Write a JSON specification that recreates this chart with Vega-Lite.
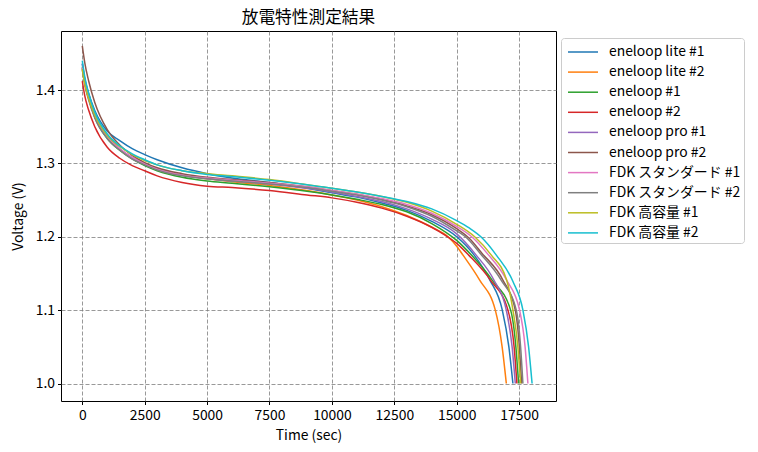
{
  "$schema": "https://vega.github.io/schema/vega-lite/v6.json",
  "width": 495,
  "height": 370,
  "autosize": {"type": "none"},
  "padding": {"left": 61, "top": 31, "right": 202, "bottom": 51},
  "background": "white",
  "title": {"text": "放電特性測定結果", "font": "Noto Sans CJK JP", "fontSize": 16.7, "fontWeight": "normal", "color": "black", "anchor": "middle", "offset": 4},
  "config": {
    "font": "Noto Sans CJK JP",
    "view": {"stroke": "black", "strokeWidth": 1},
    "axis": {"labelFont": "Noto Sans CJK JP", "titleFont": "Noto Sans CJK JP", "labelFontSize": 13.9, "titleFontSize": 13.9, "titleFontWeight": "normal", "labelColor": "black", "titleColor": "black", "tickColor": "black", "tickSize": 3.5, "domain": false, "gridColor": "#7f7f7f", "gridDash": [4, 2], "gridOpacity": 1, "gridWidth": 0.8}
  },
  "data": {"values": [
    {"series":"eneloop lite #1","time":0,"voltage":1.436},{"series":"eneloop lite #1","time":100,"voltage":1.415},{"series":"eneloop lite #1","time":250,"voltage":1.396},{"series":"eneloop lite #1","time":500,"voltage":1.372},{"series":"eneloop lite #1","time":1000,"voltage":1.344},{"series":"eneloop lite #1","time":1500,"voltage":1.331},{"series":"eneloop lite #1","time":2000,"voltage":1.320},{"series":"eneloop lite #1","time":2500,"voltage":1.312},{"series":"eneloop lite #1","time":3000,"voltage":1.305},{"series":"eneloop lite #1","time":4000,"voltage":1.294},{"series":"eneloop lite #1","time":5000,"voltage":1.286},{"series":"eneloop lite #1","time":6000,"voltage":1.280},{"series":"eneloop lite #1","time":7500,"voltage":1.274},{"series":"eneloop lite #1","time":9000,"voltage":1.266},{"series":"eneloop lite #1","time":10000,"voltage":1.260},{"series":"eneloop lite #1","time":11000,"voltage":1.254},{"series":"eneloop lite #1","time":12000,"voltage":1.246},{"series":"eneloop lite #1","time":13000,"voltage":1.236},{"series":"eneloop lite #1","time":14000,"voltage":1.221},{"series":"eneloop lite #1","time":15000,"voltage":1.200},{"series":"eneloop lite #1","time":15700,"voltage":1.175},{"series":"eneloop lite #1","time":16330,"voltage":1.141},{"series":"eneloop lite #1","time":16827,"voltage":1.1},{"series":"eneloop lite #1","time":17090,"voltage":1.05},{"series":"eneloop lite #1","time":17252,"voltage":1.0},
    {"series":"eneloop lite #2","time":0,"voltage":1.430},{"series":"eneloop lite #2","time":100,"voltage":1.410},{"series":"eneloop lite #2","time":250,"voltage":1.390},{"series":"eneloop lite #2","time":500,"voltage":1.364},{"series":"eneloop lite #2","time":1000,"voltage":1.335},{"series":"eneloop lite #2","time":1500,"voltage":1.319},{"series":"eneloop lite #2","time":2000,"voltage":1.307},{"series":"eneloop lite #2","time":2500,"voltage":1.299},{"series":"eneloop lite #2","time":3000,"voltage":1.293},{"series":"eneloop lite #2","time":4000,"voltage":1.284},{"series":"eneloop lite #2","time":5000,"voltage":1.279},{"series":"eneloop lite #2","time":6000,"voltage":1.275},{"series":"eneloop lite #2","time":7500,"voltage":1.270},{"series":"eneloop lite #2","time":9000,"voltage":1.263},{"series":"eneloop lite #2","time":10000,"voltage":1.257},{"series":"eneloop lite #2","time":11000,"voltage":1.250},{"series":"eneloop lite #2","time":12000,"voltage":1.241},{"series":"eneloop lite #2","time":13000,"voltage":1.229},{"series":"eneloop lite #2","time":14000,"voltage":1.213},{"series":"eneloop lite #2","time":14650,"voltage":1.2},{"series":"eneloop lite #2","time":15000,"voltage":1.187},{"series":"eneloop lite #2","time":15253,"voltage":1.175},{"series":"eneloop lite #2","time":15920,"voltage":1.141},{"series":"eneloop lite #2","time":16547,"voltage":1.1},{"series":"eneloop lite #2","time":16820,"voltage":1.05},{"series":"eneloop lite #2","time":16988,"voltage":1.0},
    {"series":"eneloop #1","time":0,"voltage":1.432},{"series":"eneloop #1","time":100,"voltage":1.410},{"series":"eneloop #1","time":250,"voltage":1.389},{"series":"eneloop #1","time":500,"voltage":1.363},{"series":"eneloop #1","time":1000,"voltage":1.334},{"series":"eneloop #1","time":1500,"voltage":1.318},{"series":"eneloop #1","time":2000,"voltage":1.306},{"series":"eneloop #1","time":2500,"voltage":1.297},{"series":"eneloop #1","time":3000,"voltage":1.290},{"series":"eneloop #1","time":4000,"voltage":1.281},{"series":"eneloop #1","time":5000,"voltage":1.276},{"series":"eneloop #1","time":6000,"voltage":1.273},{"series":"eneloop #1","time":7500,"voltage":1.268},{"series":"eneloop #1","time":9000,"voltage":1.262},{"series":"eneloop #1","time":10000,"voltage":1.257},{"series":"eneloop #1","time":11000,"voltage":1.251},{"series":"eneloop #1","time":12000,"voltage":1.244},{"series":"eneloop #1","time":13000,"voltage":1.234},{"series":"eneloop #1","time":14000,"voltage":1.218},{"series":"eneloop #1","time":15000,"voltage":1.195},{"series":"eneloop #1","time":15590,"voltage":1.175},{"series":"eneloop #1","time":16420,"voltage":1.141},{"series":"eneloop #1","time":17160,"voltage":1.1},{"series":"eneloop #1","time":17370,"voltage":1.05},{"series":"eneloop #1","time":17480,"voltage":1.0},
    {"series":"eneloop #2","time":0,"voltage":1.412},{"series":"eneloop #2","time":100,"voltage":1.392},{"series":"eneloop #2","time":250,"voltage":1.373},{"series":"eneloop #2","time":500,"voltage":1.350},{"series":"eneloop #2","time":1000,"voltage":1.322},{"series":"eneloop #2","time":1500,"voltage":1.307},{"series":"eneloop #2","time":2000,"voltage":1.297},{"series":"eneloop #2","time":2500,"voltage":1.290},{"series":"eneloop #2","time":3000,"voltage":1.283},{"series":"eneloop #2","time":4000,"voltage":1.274},{"series":"eneloop #2","time":5000,"voltage":1.269},{"series":"eneloop #2","time":6000,"voltage":1.267},{"series":"eneloop #2","time":7500,"voltage":1.263},{"series":"eneloop #2","time":9000,"voltage":1.257},{"series":"eneloop #2","time":10000,"voltage":1.253},{"series":"eneloop #2","time":11000,"voltage":1.247},{"series":"eneloop #2","time":12000,"voltage":1.239},{"series":"eneloop #2","time":13000,"voltage":1.228},{"series":"eneloop #2","time":14000,"voltage":1.213},{"series":"eneloop #2","time":14500,"voltage":1.203},{"series":"eneloop #2","time":15000,"voltage":1.191},{"series":"eneloop #2","time":15480,"voltage":1.175},{"series":"eneloop #2","time":16350,"voltage":1.141},{"series":"eneloop #2","time":17053,"voltage":1.1},{"series":"eneloop #2","time":17300,"voltage":1.05},{"series":"eneloop #2","time":17412,"voltage":1.0},
    {"series":"eneloop pro #1","time":0,"voltage":1.436},{"series":"eneloop pro #1","time":100,"voltage":1.414},{"series":"eneloop pro #1","time":250,"voltage":1.393},{"series":"eneloop pro #1","time":500,"voltage":1.367},{"series":"eneloop pro #1","time":1000,"voltage":1.337},{"series":"eneloop pro #1","time":1500,"voltage":1.320},{"series":"eneloop pro #1","time":2000,"voltage":1.308},{"series":"eneloop pro #1","time":2500,"voltage":1.299},{"series":"eneloop pro #1","time":3000,"voltage":1.292},{"series":"eneloop pro #1","time":4000,"voltage":1.284},{"series":"eneloop pro #1","time":5000,"voltage":1.279},{"series":"eneloop pro #1","time":6000,"voltage":1.276},{"series":"eneloop pro #1","time":7500,"voltage":1.272},{"series":"eneloop pro #1","time":9000,"voltage":1.266},{"series":"eneloop pro #1","time":10000,"voltage":1.261},{"series":"eneloop pro #1","time":11000,"voltage":1.255},{"series":"eneloop pro #1","time":12000,"voltage":1.248},{"series":"eneloop pro #1","time":13000,"voltage":1.238},{"series":"eneloop pro #1","time":14000,"voltage":1.224},{"series":"eneloop pro #1","time":15000,"voltage":1.204},{"series":"eneloop pro #1","time":15780,"voltage":1.175},{"series":"eneloop pro #1","time":16490,"voltage":1.141},{"series":"eneloop pro #1","time":16987,"voltage":1.1},{"series":"eneloop pro #1","time":17220,"voltage":1.05},{"series":"eneloop pro #1","time":17348,"voltage":1.0},
    {"series":"eneloop pro #2","time":0,"voltage":1.460},{"series":"eneloop pro #2","time":100,"voltage":1.437},{"series":"eneloop pro #2","time":250,"voltage":1.413},{"series":"eneloop pro #2","time":500,"voltage":1.383},{"series":"eneloop pro #2","time":1000,"voltage":1.346},{"series":"eneloop pro #2","time":1500,"voltage":1.325},{"series":"eneloop pro #2","time":2000,"voltage":1.311},{"series":"eneloop pro #2","time":2500,"voltage":1.301},{"series":"eneloop pro #2","time":3000,"voltage":1.294},{"series":"eneloop pro #2","time":4000,"voltage":1.286},{"series":"eneloop pro #2","time":5000,"voltage":1.281},{"series":"eneloop pro #2","time":6000,"voltage":1.278},{"series":"eneloop pro #2","time":7500,"voltage":1.274},{"series":"eneloop pro #2","time":9000,"voltage":1.268},{"series":"eneloop pro #2","time":10000,"voltage":1.263},{"series":"eneloop pro #2","time":11000,"voltage":1.258},{"series":"eneloop pro #2","time":12000,"voltage":1.251},{"series":"eneloop pro #2","time":13000,"voltage":1.242},{"series":"eneloop pro #2","time":14000,"voltage":1.230},{"series":"eneloop pro #2","time":15000,"voltage":1.211},{"series":"eneloop pro #2","time":15500,"voltage":1.198},{"series":"eneloop pro #2","time":16000,"voltage":1.178},{"series":"eneloop pro #2","time":16850,"voltage":1.141},{"series":"eneloop pro #2","time":17347,"voltage":1.1},{"series":"eneloop pro #2","time":17510,"voltage":1.05},{"series":"eneloop pro #2","time":17600,"voltage":1.0},
    {"series":"FDK スタンダード #1","time":0,"voltage":1.430},{"series":"FDK スタンダード #1","time":100,"voltage":1.410},{"series":"FDK スタンダード #1","time":250,"voltage":1.390},{"series":"FDK スタンダード #1","time":500,"voltage":1.365},{"series":"FDK スタンダード #1","time":1000,"voltage":1.336},{"series":"FDK スタンダード #1","time":1500,"voltage":1.320},{"series":"FDK スタンダード #1","time":2000,"voltage":1.308},{"series":"FDK スタンダード #1","time":2500,"voltage":1.299},{"series":"FDK スタンダード #1","time":3000,"voltage":1.292},{"series":"FDK スタンダード #1","time":4000,"voltage":1.284},{"series":"FDK スタンダード #1","time":5000,"voltage":1.280},{"series":"FDK スタンダード #1","time":6000,"voltage":1.277},{"series":"FDK スタンダード #1","time":7500,"voltage":1.273},{"series":"FDK スタンダード #1","time":9000,"voltage":1.268},{"series":"FDK スタンダード #1","time":10000,"voltage":1.263},{"series":"FDK スタンダード #1","time":11000,"voltage":1.258},{"series":"FDK スタンダード #1","time":12000,"voltage":1.252},{"series":"FDK スタンダード #1","time":13000,"voltage":1.244},{"series":"FDK スタンダード #1","time":14000,"voltage":1.232},{"series":"FDK スタンダード #1","time":15000,"voltage":1.214},{"series":"FDK スタンダード #1","time":15600,"voltage":1.200},{"series":"FDK スタンダード #1","time":16253,"voltage":1.176},{"series":"FDK スタンダード #1","time":17000,"voltage":1.141},{"series":"FDK スタンダード #1","time":17520,"voltage":1.1},{"series":"FDK スタンダード #1","time":17740,"voltage":1.05},{"series":"FDK スタンダード #1","time":17852,"voltage":1.0},
    {"series":"FDK スタンダード #2","time":0,"voltage":1.428},{"series":"FDK スタンダード #2","time":100,"voltage":1.407},{"series":"FDK スタンダード #2","time":250,"voltage":1.387},{"series":"FDK スタンダード #2","time":500,"voltage":1.362},{"series":"FDK スタンダード #2","time":1000,"voltage":1.334},{"series":"FDK スタンダード #2","time":1500,"voltage":1.318},{"series":"FDK スタンダード #2","time":2000,"voltage":1.306},{"series":"FDK スタンダード #2","time":2500,"voltage":1.298},{"series":"FDK スタンダード #2","time":3000,"voltage":1.291},{"series":"FDK スタンダード #2","time":4000,"voltage":1.283},{"series":"FDK スタンダード #2","time":5000,"voltage":1.279},{"series":"FDK スタンダード #2","time":6000,"voltage":1.276},{"series":"FDK スタンダード #2","time":7500,"voltage":1.272},{"series":"FDK スタンダード #2","time":9000,"voltage":1.267},{"series":"FDK スタンダード #2","time":10000,"voltage":1.262},{"series":"FDK スタンダード #2","time":11000,"voltage":1.257},{"series":"FDK スタンダード #2","time":12000,"voltage":1.250},{"series":"FDK スタンダード #2","time":13000,"voltage":1.241},{"series":"FDK スタンダード #2","time":14000,"voltage":1.228},{"series":"FDK スタンダード #2","time":15000,"voltage":1.208},{"series":"FDK スタンダード #2","time":15350,"voltage":1.200},{"series":"FDK スタンダード #2","time":15950,"voltage":1.177},{"series":"FDK スタンダード #2","time":16780,"voltage":1.141},{"series":"FDK スタンダード #2","time":17387,"voltage":1.1},{"series":"FDK スタンダード #2","time":17560,"voltage":1.05},{"series":"FDK スタンダード #2","time":17652,"voltage":1.0},
    {"series":"FDK 高容量 #1","time":0,"voltage":1.428},{"series":"FDK 高容量 #1","time":100,"voltage":1.408},{"series":"FDK 高容量 #1","time":250,"voltage":1.389},{"series":"FDK 高容量 #1","time":500,"voltage":1.366},{"series":"FDK 高容量 #1","time":1000,"voltage":1.338},{"series":"FDK 高容量 #1","time":1500,"voltage":1.323},{"series":"FDK 高容量 #1","time":2000,"voltage":1.312},{"series":"FDK 高容量 #1","time":2500,"voltage":1.304},{"series":"FDK 高容量 #1","time":3000,"voltage":1.298},{"series":"FDK 高容量 #1","time":4000,"voltage":1.290},{"series":"FDK 高容量 #1","time":5000,"voltage":1.286},{"series":"FDK 高容量 #1","time":6000,"voltage":1.283},{"series":"FDK 高容量 #1","time":7500,"voltage":1.278},{"series":"FDK 高容量 #1","time":9000,"voltage":1.271},{"series":"FDK 高容量 #1","time":10000,"voltage":1.266},{"series":"FDK 高容量 #1","time":11000,"voltage":1.261},{"series":"FDK 高容量 #1","time":12000,"voltage":1.255},{"series":"FDK 高容量 #1","time":13000,"voltage":1.247},{"series":"FDK 高容量 #1","time":14000,"voltage":1.235},{"series":"FDK 高容量 #1","time":15000,"voltage":1.217},{"series":"FDK 高容量 #1","time":15720,"voltage":1.200},{"series":"FDK 高容量 #1","time":16387,"voltage":1.175},{"series":"FDK 高容量 #1","time":17000,"voltage":1.141},{"series":"FDK 高容量 #1","time":17253,"voltage":1.1},{"series":"FDK 高容量 #1","time":17450,"voltage":1.05},{"series":"FDK 高容量 #1","time":17560,"voltage":1.0},
    {"series":"FDK 高容量 #2","time":0,"voltage":1.440},{"series":"FDK 高容量 #2","time":100,"voltage":1.418},{"series":"FDK 高容量 #2","time":250,"voltage":1.396},{"series":"FDK 高容量 #2","time":500,"voltage":1.370},{"series":"FDK 高容量 #2","time":1000,"voltage":1.340},{"series":"FDK 高容量 #2","time":1500,"voltage":1.324},{"series":"FDK 高容量 #2","time":2000,"voltage":1.313},{"series":"FDK 高容量 #2","time":2500,"voltage":1.305},{"series":"FDK 高容量 #2","time":3000,"voltage":1.298},{"series":"FDK 高容量 #2","time":4000,"voltage":1.290},{"series":"FDK 高容量 #2","time":5000,"voltage":1.285},{"series":"FDK 高容量 #2","time":6000,"voltage":1.282},{"series":"FDK 高容量 #2","time":7500,"voltage":1.277},{"series":"FDK 高容量 #2","time":9000,"voltage":1.271},{"series":"FDK 高容量 #2","time":10000,"voltage":1.266},{"series":"FDK 高容量 #2","time":11000,"voltage":1.261},{"series":"FDK 高容量 #2","time":12000,"voltage":1.255},{"series":"FDK 高容量 #2","time":13000,"voltage":1.248},{"series":"FDK 高容量 #2","time":14000,"voltage":1.238},{"series":"FDK 高容量 #2","time":15000,"voltage":1.222},{"series":"FDK 高容量 #2","time":15500,"voltage":1.212},{"series":"FDK 高容量 #2","time":16000,"voltage":1.199},{"series":"FDK 高容量 #2","time":16587,"voltage":1.175},{"series":"FDK 高容量 #2","time":17253,"voltage":1.139},{"series":"FDK 高容量 #2","time":17653,"voltage":1.1},{"series":"FDK 高容量 #2","time":17880,"voltage":1.05},{"series":"FDK 高容量 #2","time":18020,"voltage":1.0}
  ]},
  "mark": {"type": "line", "strokeWidth": 1.5, "interpolate": "monotone", "clip": true},
  "encoding": {
    "x": {"field": "time", "type": "quantitative", "title": "Time (sec)",
          "scale": {"domain": [-853, 18978], "nice": false, "zero": false},
          "axis": {"values": [0, 2500, 5000, 7500, 10000, 12500, 15000, 17500], "format": "d", "labelPadding": 4, "titlePadding": 6}},
    "y": {"field": "voltage", "type": "quantitative", "title": "Voltage (V)",
          "scale": {"domain": [0.9762, 1.4804], "nice": false, "zero": false},
          "axis": {"values": [1.0, 1.1, 1.2, 1.3, 1.4], "format": ".1f", "labelPadding": 3, "titlePadding": 10}},
    "color": {"field": "series", "type": "nominal",
              "scale": {"domain": ["eneloop lite #1", "eneloop lite #2", "eneloop #1", "eneloop #2", "eneloop pro #1", "eneloop pro #2", "FDK スタンダード #1", "FDK スタンダード #2", "FDK 高容量 #1", "FDK 高容量 #2"],
                        "range": ["#1f77b4", "#ff7f0e", "#2ca02c", "#d62728", "#9467bd", "#8c564b", "#e377c2", "#7f7f7f", "#bcbd22", "#17becf"]},
              "legend": {"title": null, "orient": "none", "legendX": 500, "legendY": 7, "symbolType": "M-1.5,0L1.5,0", "symbolSize": 400, "symbolStrokeWidth": 1.5, "symbolOffset": 8, "labelFont": "Noto Sans CJK JP", "labelFontSize": 13.9, "labelColor": "black", "labelOffset": 15, "rowPadding": 2.1, "padding": 3, "strokeColor": "#cccccc", "fillColor": "white", "cornerRadius": 3}}
  }
}
